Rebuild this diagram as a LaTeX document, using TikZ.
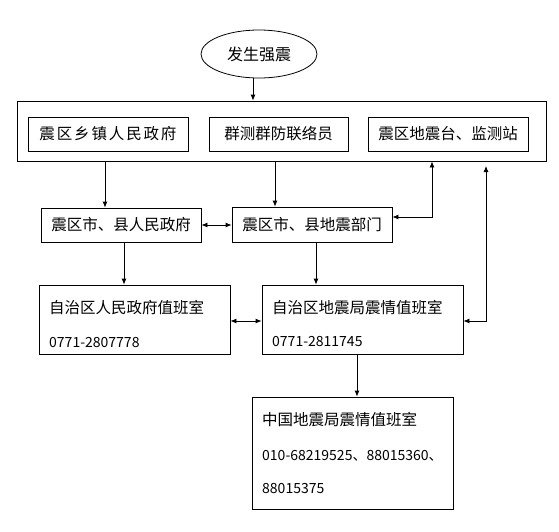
\documentclass[tikz,border=0pt]{standalone}
\usepackage{fontspec}
\setmainfont{Noto Sans CJK SC}
\usetikzlibrary{arrows.meta,shapes.geometric}
\begin{document}
\begin{tikzpicture}[x=1pt,y=-1pt,
  box/.style={draw=black,line width=0.8pt,inner sep=0pt,font=\fontsize{15.5}{18}\selectfont},
  txt/.style={anchor=west,inner sep=0pt,font=\fontsize{15.5}{18}\selectfont},
  num/.style={anchor=west,inner sep=0pt,font=\fontsize{14}{16}\selectfont},
  arr/.style={line width=0.8pt,-{Latex[length=6pt,width=5pt]}},
  dbl/.style={line width=0.8pt,{Latex[length=6pt,width=5pt]}-{Latex[length=6pt,width=5pt]}}]
\useasboundingbox[fill=white] (0,0) rectangle (559,531);

\node[draw=black,ellipse,line width=0.8pt,minimum width=116pt,minimum height=48pt,inner sep=0pt,
      font=\fontsize{16}{18}\selectfont] (quake) at (259,54) {发生强震};

\node[box,minimum width=529pt,minimum height=60pt] (outer) at (281.5,131) {};
\node[box,minimum width=160pt,minimum height=34pt] (in1) at (108,134) {\addfontfeature{LetterSpace=12}震区乡镇人民政府};
\node[box,minimum width=139pt,minimum height=34pt] (in2) at (278.5,134) {群测群防联络员};
\node[box,minimum width=160pt,minimum height=34pt] (in3) at (448,134) {震区地震台、监测站};

\node[box,minimum width=160pt,minimum height=34pt] (A) at (121,225) {震区市、县人民政府};
\node[box,minimum width=160pt,minimum height=35pt] (B) at (312,224.5) {震区市、县地震部门};

\node[box,minimum width=191pt,minimum height=69pt] (C) at (134.5,319.5) {};
\node[txt] (C1) at (49,308) {自治区人民政府值班室};
\node[num] (C2) at (49,342) {0771-2807778};

\node[box,minimum width=201pt,minimum height=69pt] (D) at (362.5,319.5) {};
\node[txt] (D1) at (272,308) {自治区地震局震情值班室};
\node[num] (D2) at (272,341) {0771-2811745};

\node[box,minimum width=201pt,minimum height=112pt] (E) at (352.5,453) {};
\node[txt] (E1) at (262,420) {中国地震局震情值班室};
\node[num] (E2) at (262,456) {010-68219525、88015360、};
\node[num] (E3) at (262,488) {88015375};

\coordinate (gap) at (486,166);

\draw[arr] ([xshift=-6pt]quake.south) -- ([xshift=-6pt]quake.south |- outer.north);
\draw[arr] ([xshift=-16pt]A.north |- outer.south) -- ([xshift=-16pt]A.north);
\draw[arr] ([xshift=-37pt]B.north |- outer.south) -- ([xshift=-37pt]B.north);
\draw[dbl] (A.east) -- (A.east -| B.west);
\draw[dbl] ([yshift=7.5pt]B.east) -| ([xshift=150.5pt]outer.south);
\draw[dbl] ([yshift=-1.5pt]D.east) -| (gap);
\draw[arr] ([xshift=3pt]A.south) -- ([xshift=3pt]A.south |- C.north);
\draw[dbl] ([yshift=-1.5pt]C.east) -- ([yshift=-1.5pt]C.east -| D.west);
\draw[arr] ([xshift=4pt]B.south) -- ([xshift=4pt]B.south |- D.north);
\draw[arr] ([xshift=-5.5pt]D.south) -- ([xshift=-5.5pt]D.south |- E.north);
\end{tikzpicture}
\end{document}
